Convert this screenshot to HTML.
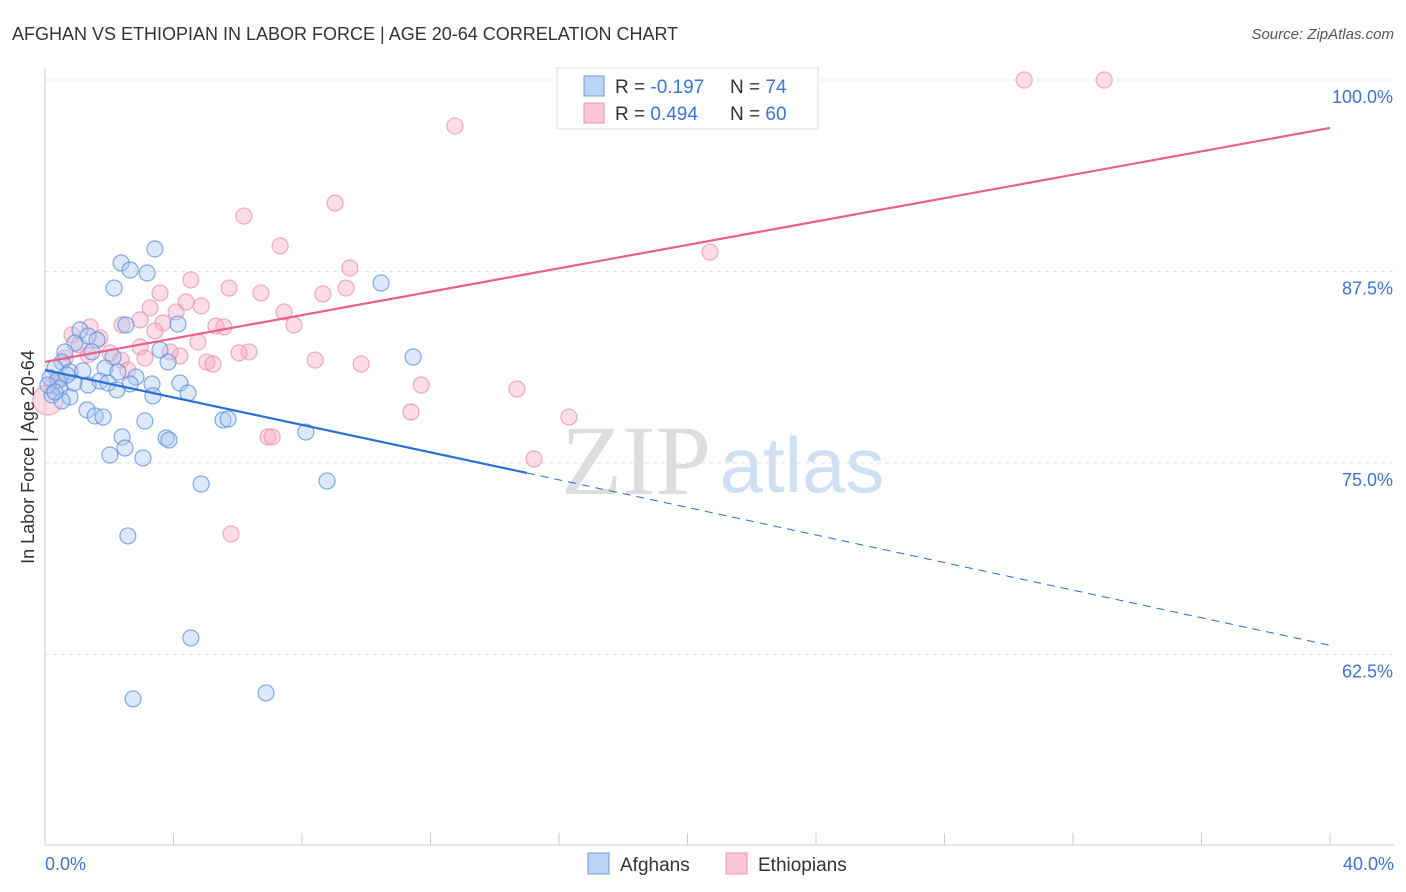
<!DOCTYPE html>
<html><head><meta charset="utf-8"><style>
body{margin:0;background:#fff;font-family:"Liberation Sans",sans-serif}
svg{display:block}
</style></head><body>
<svg id="c" width="1406" height="892" xmlns="http://www.w3.org/2000/svg">
<text x="12" y="40" font-size="18" fill="#333">AFGHAN VS ETHIOPIAN IN LABOR FORCE | AGE 20-64 CORRELATION CHART</text>
<text x="1394" y="39" font-size="15" fill="#555" font-style="italic" text-anchor="end">Source: ZipAtlas.com</text>
<g>
<text x="636" y="494" font-size="100" font-family="Liberation Serif" fill="#ddd" text-anchor="middle">ZIP</text>
<text x="802" y="492" font-size="78" fill="#cfe0f2" text-anchor="middle">atlas</text>
</g>
<g id="grid"></g>
<g id="axes"></g>
<g id="pts"></g>
<g id="lines"></g>
<text transform="translate(34,457) rotate(-90)" font-size="18" fill="#333" text-anchor="middle">In Labor Force | Age 20-64</text>
<g>
<rect x="557" y="68" width="261" height="61" fill="#fff" stroke="#ddd"/>
<rect x="584" y="76" width="20" height="20" fill="#bcd4f5" stroke="#6a9be0"/>
<rect x="584" y="103" width="20" height="20" fill="#fbc6d6" stroke="#ef93b0"/>
<text x="615" y="93" font-size="19" fill="#333">R = <tspan fill="#3a74d6">-0.197</tspan></text>
<text x="730" y="93" font-size="19" fill="#333">N = <tspan fill="#3a74d6">74</tspan></text>
<text x="615" y="120" font-size="19" fill="#333">R = <tspan fill="#3a74d6"> 0.494</tspan></text>
<text x="730" y="120" font-size="19" fill="#333">N = <tspan fill="#3a74d6">60</tspan></text>
</g>
<g>
<rect x="588" y="853" width="21" height="21" fill="#bcd4f5" stroke="#6a9be0"/>
<text x="620" y="871" font-size="19" fill="#333">Afghans</text>
<rect x="726" y="853" width="21" height="21" fill="#fbc6d6" stroke="#ef93b0"/>
<text x="758" y="871" font-size="19" fill="#333">Ethiopians</text>
</g>
</svg>
<script>
const xTicks=[0,40];
const yTicks=[62.5,75,87.5,100];
const yTickLabels=["62.5%","75.0%","87.5%","100.0%"];
const blueX=[3.42,2.37,2.65,3.18,2.15,10.46,2.52,4.14,1.09,1.34,1.62,0.93,1.46,0.62,2.12,3.58,3.83,11.46,0.53,0.31,0.78,1.18,1.87,2.27,2.83,0.16,0.40,1.71,1.96,2.65,3.33,4.20,0.47,1.34,2.24,3.36,4.45,0.22,0.78,0.53,1.31,1.56,1.81,3.11,5.54,5.70,8.12,2.40,3.77,3.86,2.49,2.02,3.05,8.78,4.86,2.58,4.54,6.88,2.74,0.09,0.31,0.90,0.68];
const blueY=[88.97,88.06,87.60,87.40,86.42,86.75,84.01,84.07,83.68,83.29,83.03,82.83,82.25,82.25,81.92,82.38,81.59,81.92,81.59,81.20,80.94,81.01,81.20,80.94,80.61,80.55,80.42,80.35,80.22,80.16,80.16,80.22,79.90,80.09,79.77,79.38,79.57,79.44,79.31,79.05,78.46,78.07,78.00,77.74,77.81,77.87,77.02,76.70,76.63,76.50,75.98,75.52,75.33,73.83,73.63,70.24,63.58,59.99,59.60,80.09,79.64,80.22,80.74];
const pinkX=[30.48,32.97,12.76,9.03,6.19,7.32,20.70,9.49,4.54,5.73,6.72,9.37,8.65,3.58,4.39,4.86,3.27,7.44,4.08,2.96,3.67,7.75,2.40,5.32,5.57,1.40,3.42,1.71,4.76,2.96,1.06,6.35,6.04,2.02,4.20,3.89,8.41,5.04,5.23,9.84,0.62,2.37,2.58,11.71,14.69,0.22,0.47,11.39,16.31,6.94,7.07,15.22,5.79,0.09,0.84,3.11,1.34];
const pinkY=[100,100,97.00,91.97,91.12,89.17,88.77,87.73,86.95,86.42,86.10,86.42,86.03,86.10,85.51,85.25,85.12,84.86,84.86,84.34,84.14,84.01,84.01,83.94,83.88,83.88,83.62,83.16,82.90,82.57,82.70,82.25,82.19,82.19,81.99,82.25,81.72,81.59,81.46,81.46,81.85,81.72,81.07,80.09,79.83,80.03,80.42,78.33,78.00,76.70,76.70,75.26,70.37,79.11,83.36,81.85,82.06];
const blueTrend=[[0,81.07],[15,74.35],[40,63.1]];
const pinkTrend=[[0,81.6],[40,96.87]];
const X=v=>45+v/40*1285;
const Y=v=>80+(100-v)/12.5*191.5;
const NS="http://www.w3.org/2000/svg";
function mk(tag,attrs,parent){const e=document.createElementNS(NS,tag);for(const k in attrs)e.setAttribute(k,attrs[k]);parent.appendChild(e);return e;}
const grid=document.getElementById('grid'),axes=document.getElementById('axes'),pts=document.getElementById('pts'),lines=document.getElementById('lines');
yTicks.forEach((t,i)=>{
 const l=mk('line',{x1:45,x2:1394,y1:Y(t),y2:Y(t),stroke:'#e2e2e2','stroke-dasharray':'4,4'},grid);
 
 
 const tx=mk('text',{x:1393,y:Y(t)+23,'font-size':18,fill:'#3a74d6','text-anchor':'end'},axes);
 tx.textContent=yTickLabels[i];
 
 
});
const ax=mk('line',{x1:45,x2:45,y1:68,y2:845,stroke:'#ccc'},axes);


const bx=mk('line',{x1:45,x2:1394,y1:845,y2:845,stroke:'#ccc'},axes);


for(let i=1;i<=10;i++){const t=mk('line',{x1:X(i*4),x2:X(i*4),y1:833,y2:845,stroke:'#ccc'},axes);
 
 }
[[0,'start',45],[40,'end',1394]].forEach(([v,a,px])=>{const t=mk('text',{x:px,y:870,'font-size':18,fill:'#3a74d6','text-anchor':a},axes);t.textContent=v.toFixed(1)+'%';
 
 });
function dots(xs,ys,fill,stroke,name){xs.forEach((x,i)=>{const big=(x<0.15&&name==='ethiopian-point');
 const c=mk('circle',{cx:X(x),cy:Y(ys[i]),r:big?15:8,fill:fill,'fill-opacity':0.4,stroke:stroke,'stroke-opacity':0.75,'stroke-width':1.2},pts);
 
 });}
dots(pinkX,pinkY,'#f7a8c0','#ee8fae','ethiopian-point');
dots(blueX,blueY,'#a9c8f2','#5a8fdc','afghan-point');
const b1=mk('line',{x1:X(blueTrend[0][0]),y1:Y(blueTrend[0][1]),x2:X(blueTrend[1][0]),y2:Y(blueTrend[1][1]),stroke:'#2a6fd6','stroke-width':2.2},lines);


const b2=mk('line',{x1:X(blueTrend[1][0]),y1:Y(blueTrend[1][1]),x2:X(blueTrend[2][0]),y2:Y(blueTrend[2][1]),stroke:'#2a6fd6','stroke-width':1,'stroke-dasharray':'8,6'},lines);


const p1=mk('line',{x1:X(pinkTrend[0][0]),y1:Y(pinkTrend[0][1]),x2:X(pinkTrend[1][0]),y2:Y(pinkTrend[1][1]),stroke:'#e8608e','stroke-width':2.2},lines);


</script>
</body></html>
